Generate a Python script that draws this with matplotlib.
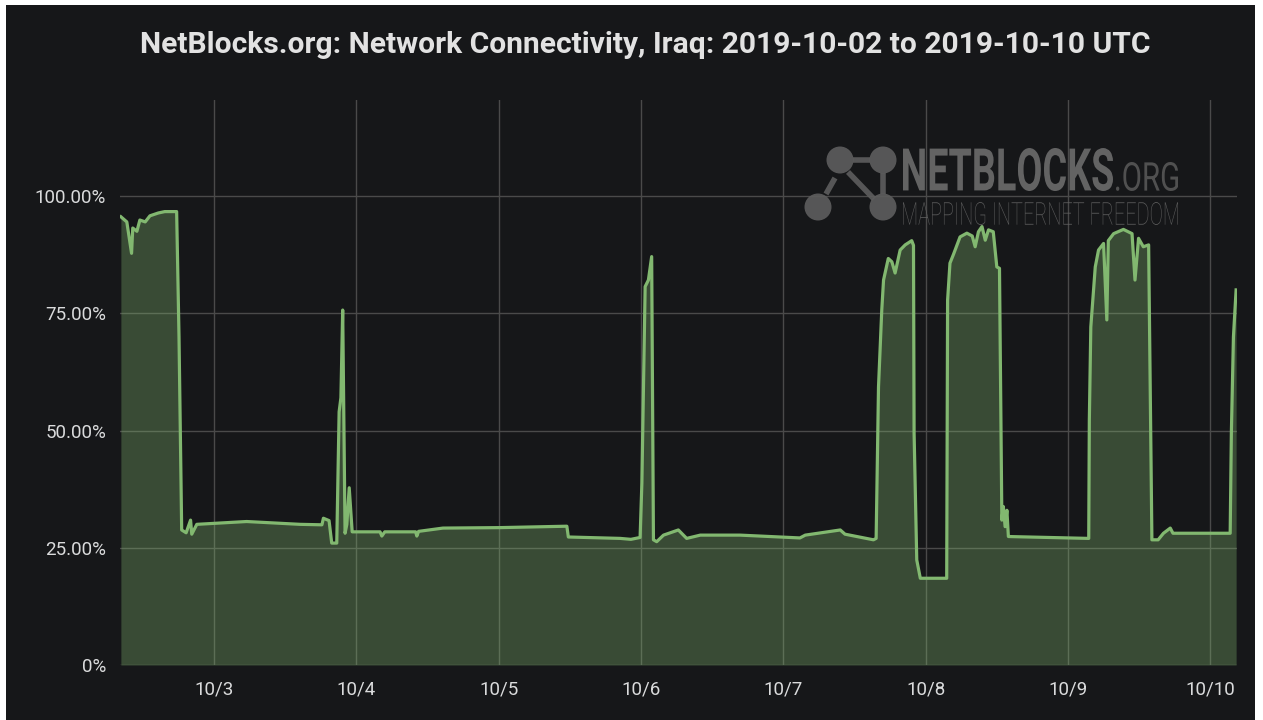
import matplotlib
matplotlib.use("Agg")
import matplotlib.pyplot as plt
from matplotlib.patches import Rectangle, Circle, PathPatch
from matplotlib.textpath import TextPath
from matplotlib.font_manager import FontProperties
from matplotlib.transforms import Affine2D
import numpy as np
import pandas as pd

# connectivity, hours since 2019-10-02 00:00 UTC -> % of ordinary level
hours = [8.3, 9.3, 10.1, 10.3, 11.0, 11.5, 12.4, 13.2, 14.6, 15.7, 17.7, 18.1,
         18.55, 19.3, 20.05, 20.25, 21.1, 29.5, 38.5, 42.2, 42.45, 43.4, 43.85,
         44.7, 45.1, 45.4, 45.7, 46.1, 46.4, 46.8, 47.3, 52.0, 52.3, 52.8, 58.0,
         58.2, 58.5, 62.6, 72.2, 83.5, 83.75, 92.5, 94.3, 95.85, 96.15, 96.7,
         97.25, 97.8, 98.1, 98.65, 99.8, 102.3, 103.7, 106.0, 112.7, 122.8, 123.7,
         129.6, 130.4, 135.2, 135.65, 136.05, 136.6, 136.9, 137.7, 138.3, 138.85,
         139.7, 140.55, 141.65, 141.95, 142.05, 142.5, 143.1, 147.55, 147.7, 148.1,
         148.7, 149.8, 150.95, 151.85, 152.35, 152.9, 153.5, 154.05, 154.6, 155.4,
         156.0, 156.45, 156.85, 157.1, 157.4, 157.7, 157.95, 171.5, 171.6, 171.85,
         172.6, 173.15, 174.0, 174.55, 174.8, 175.7, 177.35, 178.8, 179.3, 179.9,
         180.7, 181.6, 182.15, 183.2, 184.1, 185.25, 185.7, 195.35, 195.55, 195.9,
         196.35]
pct = [95.6, 94.5, 87.8, 93.2, 92.5, 94.9, 94.5, 95.8, 96.4, 96.7, 96.7, 70.0,
       28.8, 28.2, 30.9, 27.9, 30.0, 30.6, 30.0, 29.9, 31.3, 30.8, 26.0,
       26.0, 54.0, 57.0, 75.7, 28.1, 30.0, 37.8, 28.4, 28.4, 27.5, 28.4, 28.4,
       27.5, 28.5, 29.2, 29.3, 29.6, 27.3, 27.0, 26.8, 27.2, 38.8, 80.7,
       82.1, 87.1, 26.7, 26.3, 27.7, 28.8, 27.0, 27.7, 27.7, 27.1, 27.7,
       28.8, 27.9, 26.7, 27.0, 59.3, 75.7, 82.1, 86.7, 86.0, 83.6,
       88.5, 89.6, 90.5, 89.5, 49.5, 22.4, 18.5, 18.5, 77.8, 85.7,
       87.6, 91.3, 92.1, 91.5, 89.2, 92.4, 93.5, 90.6, 92.8, 92.4,
       84.9, 84.6, 30.9, 33.8, 29.5, 33.0, 27.4, 27.0, 52.2, 72.1,
       84.9, 88.5, 89.9, 73.6, 90.5, 92.0, 92.9, 92.0, 82.1, 91.0,
       89.2, 89.6, 26.7, 26.7, 28.1, 29.2, 28.1, 28.1, 49.5, 70.0,
       80.0]

day_ticks = ["2019-10-03", "2019-10-04", "2019-10-05", "2019-10-06",
             "2019-10-07", "2019-10-08", "2019-10-09", "2019-10-10"]
day_labels = ["10/3", "10/4", "10/5", "10/6", "10/7", "10/8", "10/9", "10/10"]
y_ticks = [0, 25, 50, 75, 100]
y_labels = ["0%", "25.00%", "50.00%", "75.00%", "100.00%"]
title = "NetBlocks.org: Network Connectivity, Iraq: 2019-10-02 to 2019-10-10 UTC"

bg = "#161719"
green = "#82b870"
txt = "#dadbdc"

start = pd.Timestamp("2019-10-02")
t = start + pd.to_timedelta(hours, unit="h")

fig = plt.figure(figsize=(12.63, 7.2), dpi=100, facecolor="white")
fig.patches.append(Rectangle((6 / 1263, 0), 1249 / 1263, 715 / 720,
                             transform=fig.transFigure, facecolor=bg,
                             edgecolor="none", zorder=-5))

ax = fig.add_axes([120 / 1263, 55 / 720, 1117 / 1263, 565 / 720])
ax.set_facecolor("none")
ax.fill_between(t, pct, 0, color=green, alpha=0.33, lw=0, zorder=2)
ax.plot(t, pct, color=green, lw=2.3, zorder=3, solid_joinstyle="round")

ax.set_xlim(start + pd.Timedelta(hours=8.15), start + pd.Timedelta(hours=196.5))
ax.set_ylim(0, 120.5)
ax.set_xticks(pd.to_datetime(day_ticks))
ax.set_xticklabels(day_labels)
ax.set_yticks(y_ticks)
ax.set_yticklabels(y_labels)
ax.grid(True, color="#4a4a4a", lw=1, zorder=1)
ax.set_axisbelow(True)
for s in ax.spines.values():
    s.set_visible(False)
ax.tick_params(length=0, colors=txt, labelsize=13.5)
ax.tick_params(axis="x", pad=11)
ax.tick_params(axis="y", pad=10)
for lab in ax.get_xticklabels() + ax.get_yticklabels():
    lab.set_family("Roboto")

fig.text(645 / 1263, 1 - 45 / 720, title, ha="center", va="center", fontsize=21.6,
         color="#e2e2e2", family="Roboto", weight="bold")

# watermark, in figure pixels
lax = fig.add_axes([0, 0, 1, 1])
lax.set_xlim(0, 1263)
lax.set_ylim(720, 0)
lax.axis("off")
lax.set_zorder(5)


def squeeze_text(s, x0, y0, x1, y1, color, weight):
    tp = TextPath((0, 0), s, size=100, prop=FontProperties(family="Roboto", weight=weight))
    bb = tp.get_extents()
    tr = Affine2D().translate(-bb.x0, -bb.y0).scale((x1 - x0) / bb.width,
                                                    -(y1 - y0) / bb.height).translate(x0, y1)
    lax.add_patch(PathPatch(tr.transform_path(tp), fc=color, ec="none", alpha=0.9))


logo = "#5e5e5e"
for cx, cy in [(840, 160), (883, 160), (818, 207), (883, 207)]:
    lax.add_patch(Circle((cx, cy), 13.5, fc=logo, ec="none", alpha=0.9))
for (xa, ya), (xb, yb) in [((853, 160), (870, 160)), ((835, 178), (826, 194)),
                           ((848, 172), (874, 199)), ((883, 173), (883, 194))]:
    lax.plot([xa, xb], [ya, yb], color=logo, lw=4, alpha=0.9, solid_capstyle="butt")
squeeze_text("NETBLOCKS", 903, 148, 1113, 191, "#6c6c6c", "bold")
squeeze_text(".ORG", 1116, 162, 1178, 191, "#575757", "regular")
squeeze_text("MAPPING INTERNET FREEDOM", 903, 202, 1178, 225, "#626262", "light")

fig.savefig("out.png", dpi=100, facecolor=fig.get_facecolor())
